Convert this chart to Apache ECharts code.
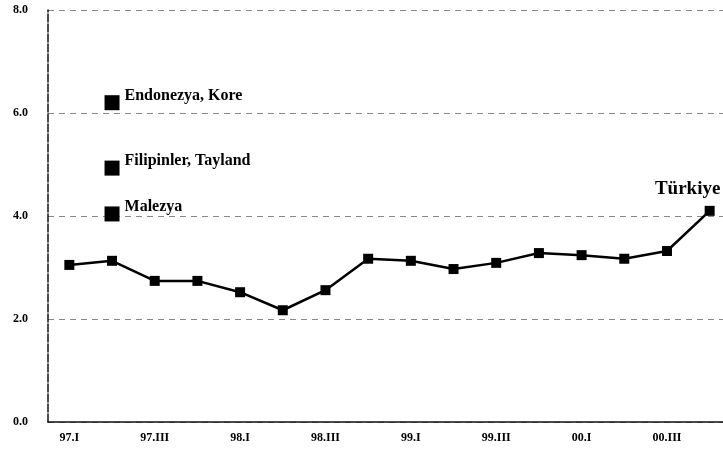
<!DOCTYPE html>
<html><head><meta charset="utf-8">
<script src="https://cdn.jsdelivr.net/npm/echarts@6/dist/echarts.min.js"></script>
<style>html,body{margin:0;padding:0;background:#fff;overflow:hidden;width:723px;height:461px}#c{width:740px;height:461px}</style>
</head><body><div id="c"></div>
<script>
const categories = ['97.I','97.II','97.III','97.IV','98.I','98.II','98.III','98.IV','99.I','99.II','99.III','99.IV','00.I','00.II','00.III','00.IV'];
const turkiyeValues = [3.05,3.13,2.74,2.74,2.52,2.17,2.56,3.17,3.13,2.97,3.09,3.28,3.24,3.17,3.32,4.10];
const otherNames = ['Endonezya, Kore','Filipinler, Tayland','Malezya'];
const otherValues = [6.2,4.93,4.04];
const otherCategory = '97.II';
const seriesLabel = 'Türkiye';

const font = '"Liberation Serif", serif';
const chart = echarts.init(document.getElementById('c'));
chart.setOption({
  animation: false,
  grid: {left: 48, top: 10, width: 683, height: 412, containLabel: false},
  xAxis: {
    type: 'category', data: categories, boundaryGap: true,
    axisLine: {lineStyle: {color: '#111', width: 1.5}},
    axisTick: {show: false},
    axisLabel: {interval: 1, margin: 10, color: '#000', fontFamily: font, fontWeight: 'bold', fontSize: 12}
  },
  yAxis: {
    type: 'value', min: 0, max: 8, interval: 2,
    axisLine: {show: true, lineStyle: {color: '#111', width: 1.5, type: [8,2]}},
    axisTick: {show: false},
    axisLabel: {margin: 20, color: '#000', fontFamily: font, fontWeight: 'bold', fontSize: 12,
      formatter: v => v.toFixed(1)},
    splitLine: {show: true, lineStyle: {color: '#888', width: 1, type: [6,5]}}
  },
  series: [
    {
      type: 'line', data: turkiyeValues.map((v,i) => i === turkiyeValues.length-1 ? {
        value: v, label: {show: true, formatter: seriesLabel, position: 'top', offset: [-22,-2],
          fontFamily: font, fontWeight: 'bold', fontSize: 19, color: '#000'}} : v),
      symbol: 'rect', symbolSize: 10,
      lineStyle: {color: '#000', width: 2.5},
      itemStyle: {color: '#000', opacity: 1}
    },
    {
      type: 'scatter', symbol: 'rect', symbolSize: 15,
      data: otherValues.map((v,i) => ({value: [otherCategory, v], name: otherNames[i]})),
      itemStyle: {color: '#000', opacity: 1},
      label: {show: true, position: 'right', offset: [0,-7], formatter: p => p.name,
        fontFamily: font, fontWeight: 'bold', fontSize: 16, color: '#000'}
    }
  ]
});
</script></body></html>
